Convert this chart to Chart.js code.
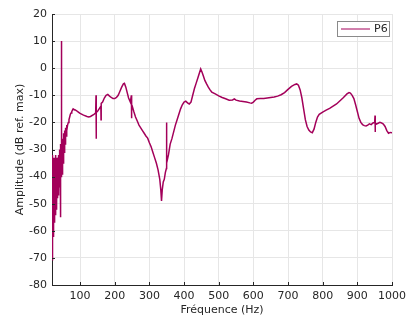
<!DOCTYPE html>
<html>
<head>
<meta charset="utf-8">
<script src="https://cdn.jsdelivr.net/npm/chart.js@4/dist/chart.umd.min.js"></script>
<style>
  html, body { margin: 0; padding: 0; background: #fff; }
  #wrap { width: 411px; height: 320px; }
</style>
</head>
<body>
<div id="wrap"><canvas id="myChart" width="411" height="320"></canvas></div>
<script>
// frequencies (Hz)
var freqs = [
  18, 18.5, 19, 19.5, 20, 20.5, 21, 21.5, 22, 22.5, 23, 23.5, 24, 24.5, 25, 25.5, 26, 26.5, 27, 27.5,
  28, 28.5, 29, 29.5, 30, 30.5, 31, 31.5, 32, 32.5, 33, 33.5, 34, 34.5, 35, 35.5, 36, 36.5, 37, 37.5,
  38, 38.5, 39, 39.5, 40, 40.5, 41, 41.5, 42, 42.5, 43, 43.5, 44, 44.5, 45, 45.5, 46, 46.5, 47, 47.5,
  48, 48.5, 49, 49.5, 50, 50.5, 51, 51.5, 52, 52.5, 53, 53.5, 54, 54.5, 55, 55.5, 56, 56.5, 57, 57.5,
  58, 59, 60, 61, 62, 64, 66, 68, 70, 72, 74, 76, 78, 80, 82, 85, 90, 95, 100, 110,
  120, 125, 130, 140, 145, 146, 146.5, 147, 150, 155, 160, 160.5, 161, 165, 170, 175, 180, 185, 190, 195,
  200, 205, 210, 215, 220, 225, 228, 232, 236, 240, 245, 248, 248.5, 249, 250, 255, 260, 265, 270, 275,
  280, 285, 290, 295, 300, 305, 310, 315, 320, 325, 330, 333, 335, 337, 340, 343, 346, 349, 349.5, 350,
  355, 360, 365, 370, 375, 380, 385, 390, 395, 400, 405, 410, 415, 420, 425, 430, 435, 440, 445, 448,
  452, 456, 460, 465, 470, 475, 480, 490, 500, 510, 520, 530, 540, 545, 550, 560, 570, 580, 590, 595,
  600, 605, 610, 620, 630, 640, 650, 660, 670, 680, 690, 700, 710, 720, 725, 730, 735, 740, 745, 750,
  755, 760, 765, 770, 775, 780, 785, 790, 800, 810, 820, 830, 840, 850, 860, 870, 876, 880, 885, 890,
  895, 900, 905, 910, 915, 920, 925, 930, 935, 940, 945, 950, 951, 951.5, 952, 955, 960, 965, 970, 975,
  980, 985, 990, 995, 1000
];

// amplitude of P6 (dB ref. max)
var ampP6 = [
  -31, -62, -34, -64, -32, -60, -71, -36, -62, -33, -59, -35, -61, -34, -56, -33, -57, -36, -55, -33,
  -54, -35, -53, -34, -51, -32, -52, -35, -49, -33, -50, -34, -47, -33, -48, -35, -46, -33, -47, -34,
  -45, -32, -46, -33, -43, -31, -44, -30, -42, -31, -43, -29, -55, -28, -40, -27, -38, 10, -12, -30,
  -39, -27, -38, -26, -37, -26, -35, -25, -34, -25, -32, -24, -31, -24, -30, -23, -29, -23, -28, -22,
  -27, -22, -25, -21, -23, -21, -20, -19, -18, -17, -16.5, -16, -15.5, -15, -15.2, -15.3, -15.7, -16.2, -16.7, -17.3,
  -17.8, -18, -17.8, -17, -16.5, -10, -26, -16.3, -16, -15, -14, -19, -13, -12.5, -11, -10, -9.7, -10.3, -10.8, -11.2,
  -11.2, -10.8, -10, -8.5, -7, -5.8, -5.6, -7, -9, -11, -12.5, -10, -18.5, -13.5, -13.8, -16, -18, -19.5, -21, -22,
  -23, -24, -25, -25.8, -27.5, -29, -31, -33, -35, -37.5, -41, -45, -49, -45, -42, -41, -38.5, -37, -20, -35,
  -32, -28, -26, -23.5, -21, -19, -17, -15, -13.5, -12.5, -12.2, -12.8, -13.2, -12.5, -10, -7.5, -5.5, -3.5, -1.5, -0.3,
  -1.5, -3, -4.5, -5.8, -7, -8, -8.8, -9.5, -10.2, -10.8, -11.3, -11.8, -11.7, -11.3, -11.8, -12.1, -12.3, -12.5, -12.8, -12.9,
  -12.5, -11.8, -11.3, -11.2, -11.2, -11, -10.8, -10.6, -10.3, -9.8, -9, -7.8, -6.7, -6, -5.8, -6.3, -8, -11, -15, -19,
  -21.5, -22.8, -23.5, -23.8, -22.5, -20, -18, -17, -16.2, -15.5, -14.8, -14, -13.2, -12, -10.8, -9.5, -9, -9.2, -10, -11.2,
  -13.5, -16, -18.5, -20, -20.8, -21.2, -21.3, -21, -20.5, -20.8, -20.2, -20, -17.5, -23.5, -20.2, -20.6, -20.3, -20, -20.2, -20.6,
  -21.5, -23, -24, -23.7, -23.8
];

// tick labels
var xTicks = [100, 200, 300, 400, 500, 600, 700, 800, 900, 1000];
var yTicks = [-80, -70, -60, -50, -40, -30, -20, -10, 0, 10, 20];

var lineColor = '#a3005a';
var textColor = '#262626';

// short ticks pointing into the plot + boxed legend in the corner
var extras = {
  id: 'extras',
  afterDatasetsDraw: function (chart) {
    var ctx = chart.ctx;
    var area = chart.chartArea;
    var xs = chart.scales.x, ys = chart.scales.y;
    ctx.save();
    ctx.strokeStyle = textColor;
    ctx.lineWidth = 1;
    ctx.beginPath();
    yTicks.forEach(function (v) {
      var py = Math.round(ys.getPixelForValue(v)) + 0.5;
      ctx.moveTo(area.left, py);
      ctx.lineTo(area.left + 3, py);
    });
    xTicks.forEach(function (v) {
      var px = Math.round(xs.getPixelForValue(v)) + 0.5;
      ctx.moveTo(px, area.bottom);
      ctx.lineTo(px, area.bottom - 3);
    });
    ctx.stroke();

    // legend box
    var ds = chart.data.datasets[0];
    ctx.fillStyle = '#fff';
    ctx.fillRect(337.5, 21.5, 52, 15);
    ctx.strokeStyle = '#8a8a8a';
    ctx.strokeRect(337.5, 21.5, 52, 15);
    ctx.strokeStyle = ds.borderColor;
    ctx.beginPath();
    ctx.moveTo(341, 29);
    ctx.lineTo(370, 29);
    ctx.stroke();
    ctx.fillStyle = textColor;
    ctx.font = '11px "DejaVu Sans"';
    ctx.textBaseline = 'middle';
    ctx.fillText(ds.label, 374, 29.5);
    ctx.restore();
  }
};

var ctx = document.getElementById('myChart').getContext('2d');
var chart = new Chart(ctx, {
  type: 'line',
  data: {
    datasets: [{
      label: 'P6',
      data: freqs.map(function (f, i) { return { x: f, y: ampP6[i] }; }),
      borderColor: lineColor,
      borderWidth: 1.5,
      pointRadius: 0,
      fill: false,
      tension: 0
    }]
  },
  options: {
    responsive: false,
    animation: false,
    layout: { padding: { left: 0, right: 14, top: 14, bottom: 0 } },
    plugins: { legend: { display: false }, tooltip: { enabled: false } },
    scales: {
      x: {
        type: 'linear',
        min: 19,
        max: 1000,
        afterBuildTicks: function (axis) {
          axis.ticks = xTicks.map(function (v) { return { value: v }; });
        },
        afterFit: function (scale) { scale.height = 35; },
        grid: { color: '#e6e6e6', drawTicks: false },
        border: { color: textColor },
        ticks: {
          color: textColor, padding: 5, maxRotation: 0,
          font: { family: 'DejaVu Sans', size: 11 },
          callback: function (v) { return String(v); }
        },
        title: { display: true, text: 'Fréquence (Hz)', color: textColor, padding: { top: 0, bottom: 3 }, font: { family: 'DejaVu Sans', size: 11 } }
      },
      y: {
        min: -80,
        max: 20,
        afterBuildTicks: function (axis) {
          axis.ticks = yTicks.map(function (v) { return { value: v }; });
        },
        afterFit: function (scale) { scale.width = 52; },
        grid: { color: '#e6e6e6', drawTicks: false },
        border: { color: textColor },
        ticks: { color: textColor, padding: 5, font: { family: 'DejaVu Sans', size: 11 } },
        title: { display: true, text: 'Amplitude (dB ref. max)', color: textColor, padding: { top: 14, bottom: 0 }, font: { family: 'DejaVu Sans', size: 11 } }
      }
    }
  },
  plugins: [extras]
});
</script>
</body>
</html>
